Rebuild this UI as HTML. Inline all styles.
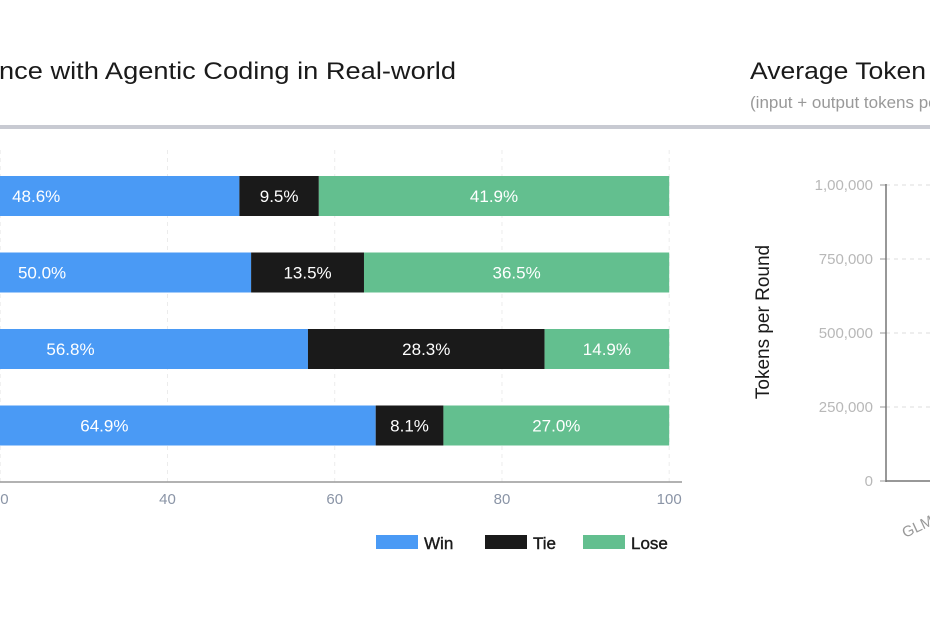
<!DOCTYPE html>
<html><head><meta charset="utf-8"><style>
body{margin:0;background:#fff;width:930px;height:620px;overflow:hidden;font-family:"Liberation Sans",sans-serif}
svg{display:block}
</style></head><body>
<svg id="c" width="930" height="620">
<text x="-1" y="79" font-size="24" textLength="457" lengthAdjust="spacingAndGlyphs" fill="#1a1a1a">nce with Agentic Coding in Real-world</text>
<text x="750" y="79" font-size="24" textLength="176" lengthAdjust="spacingAndGlyphs" fill="#1a1a1a">Average Token</text>
<text x="750" y="108" font-size="17" fill="#999">(input + output tokens per round)</text>
<rect x="0" y="125" width="930" height="4" fill="#c8cad2"/>
<g id="left"></g>
<g id="right"></g>
</svg>
<script>
const categories=["Model A","Model B","Model C","Model D"];
const winVals=[48.6,50.0,56.8,64.9];
const tieVals=[9.5,13.5,28.3,8.1];
const loseVals=[41.9,36.5,14.9,27.0];
const xTicks=[20,40,60,80,100];
const yTicksR=[0,250000,500000,750000,1000000];
const yTickLabelsR=["0","250,000","500,000","750,000","1,00,000"];
const ns="http://www.w3.org/2000/svg";
function mk(t,a,p){const e=document.createElementNS(ns,t);for(const k in a)e.setAttribute(k,a[k]);p.appendChild(e);return e;}
const L=document.getElementById('left');
const x=v=>-167+v*8.362;
const yBand=i=>176+i*76.5;
const bh=40;
xTicks.forEach(t=>{
 const g=mk('line',{x1:x(t),x2:x(t),y1:150,y2:482,stroke:'#ececec','stroke-dasharray':'4 4'},L);
 
 
 const tk=mk('text',{x:x(t),y:504,'text-anchor':'middle','font-size':15,fill:'#8a94a6'},L);
 tk.textContent=t;
 
 
});
const ax=mk('line',{x1:0,x2:682,y1:482,y2:482,stroke:'#999','stroke-width':1.5},L);


const cols=['#4a9af5','#1a1a1a','#63bf8f'];
const names=['win','tie','lose'];
categories.forEach((c,i)=>{
 let acc=0;
 [winVals[i],tieVals[i],loseVals[i]].forEach((v,j)=>{
  const r=mk('rect',{x:x(acc),y:yBand(i),width:x(acc+v)-x(acc),height:bh,fill:cols[j]},L);
  
  
  const t=mk('text',{x:(x(acc)+x(acc+v))/2,y:yBand(i)+26,'text-anchor':'middle','font-size':17,fill:'#fff'},L);
  t.textContent=v.toFixed(1)+'%';
  
  
  acc+=v;
 });
});
const leg=[['Win',376],['Tie',485],['Lose',583]];
leg.forEach((l,j)=>{
 const r=mk('rect',{x:l[1],y:535,width:42,height:14,fill:cols[j]},L);
 
 
 const t=mk('text',{x:l[1]+48,y:549,'font-size':17,fill:'#1a1a1a',stroke:'#1a1a1a','stroke-width':0.4},L);
 t.textContent=l[0];
 
 
});
const R=document.getElementById('right');
const y=v=>481-v*0.000296;
yTicksR.forEach((t,i)=>{
 const g=mk('line',{x1:886,x2:930,y1:y(t),y2:y(t),stroke:'#ddd','stroke-dasharray':'4 4'},R);
 
 
 mk('line',{x1:880,x2:886,y1:y(t),y2:y(t),stroke:'#999'},R);
 const tk=mk('text',{x:873,y:y(t)+5,'text-anchor':'end','font-size':15,fill:'#b8b8b8'},R);
 tk.textContent=yTickLabelsR[i];
 
 
});
const ya=mk('line',{x1:886,x2:886,y1:184,y2:482,stroke:'#777','stroke-width':1.5},R);


mk('line',{x1:886,x2:930,y1:481,y2:481,stroke:'#777','stroke-width':1.5},R);
const yt=mk('text',{x:0,y:0,'text-anchor':'middle','font-size':19,fill:'#1a1a1a',transform:'translate(769,322) rotate(-90)'},R);
yt.textContent='Tokens per Round';


const gl=mk('text',{x:0,y:0,'font-size':15,fill:'#999',transform:'translate(905,538) rotate(-25)'},R);
gl.textContent='GLM-4.5';


</script>
</body></html>
